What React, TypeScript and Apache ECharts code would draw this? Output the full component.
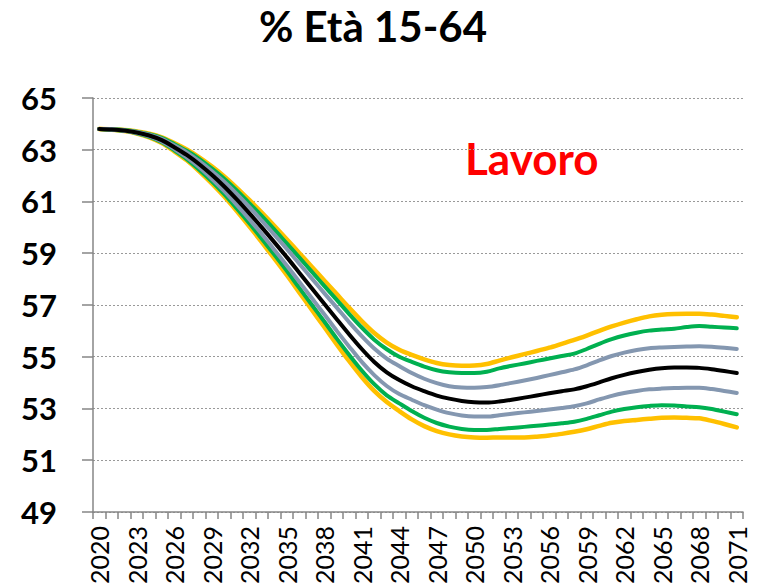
import React, { useEffect, useRef } from "react";
import * as echarts from "echarts";

const years = [
  "2020","2021","2022","2023","2024","2025","2026","2027","2028","2029",
  "2030","2031","2032","2033","2034","2035","2036","2037","2038","2039",
  "2040","2041","2042","2043","2044","2045","2046","2047","2048","2049",
  "2050","2051","2052","2053","2054","2055","2056","2057","2058","2059",
  "2060","2061","2062","2063","2064","2065","2066","2067","2068","2069",
  "2070","2071",
];

const median = [
  63.80, 63.78, 63.74, 63.67, 63.55, 63.37, 63.10, 62.80, 62.44, 62.03,
  61.58, 61.08, 60.55, 60.00, 59.43, 58.85, 58.25, 57.65, 57.05, 56.45,
  55.86, 55.30, 54.80, 54.40, 54.10, 53.86, 53.67, 53.50, 53.38, 53.29,
  53.24, 53.23, 53.27, 53.34, 53.42, 53.50, 53.59, 53.67, 53.74, 53.86,
  54.01, 54.17, 54.30, 54.41, 54.50, 54.56, 54.58, 54.58, 54.57, 54.52,
  54.45, 54.37,
];

const yellowHigh = [
  63.80, 63.79, 63.76, 63.71, 63.62, 63.48, 63.26, 63.01, 62.71, 62.36,
  61.97, 61.53, 61.06, 60.57, 60.06, 59.54, 59.01, 58.48, 57.95, 57.42,
  56.89, 56.38, 55.92, 55.55, 55.27, 55.07, 54.90, 54.76, 54.68, 54.65,
  54.66, 54.72, 54.85, 54.98, 55.10, 55.22, 55.35, 55.50, 55.65, 55.82,
  56.00, 56.17, 56.32, 56.45, 56.56, 56.62, 56.65, 56.66, 56.66, 56.63,
  56.58, 56.53,
];

const yellowLow = [
  63.80, 63.77, 63.72, 63.63, 63.48, 63.26, 62.94, 62.59, 62.17, 61.70,
  61.19, 60.63, 60.04, 59.43, 58.80, 58.16, 57.49, 56.82, 56.15, 55.48,
  54.83, 54.22, 53.68, 53.25, 52.90, 52.58, 52.32, 52.13, 52.00, 51.92,
  51.88, 51.87, 51.88, 51.88, 51.88, 51.91, 51.96, 52.02, 52.10, 52.20,
  52.33, 52.45, 52.52, 52.56, 52.60, 52.64, 52.65, 52.64, 52.62, 52.52,
  52.40, 52.27,
];

const greenHigh = [
  63.80, 63.79, 63.76, 63.70, 63.60, 63.46, 63.22, 62.96, 62.65, 62.28,
  61.88, 61.43, 60.94, 60.44, 59.92, 59.38, 58.84, 58.29, 57.74, 57.20,
  56.65, 56.13, 55.66, 55.29, 55.00, 54.80, 54.62, 54.48, 54.40, 54.37,
  54.37, 54.42, 54.55, 54.65, 54.74, 54.84, 54.93, 55.03, 55.12, 55.30,
  55.50, 55.68, 55.82, 55.93, 56.01, 56.05, 56.08, 56.15, 56.19, 56.16,
  56.13, 56.10,
];

const greenLow = [
  63.80, 63.77, 63.73, 63.64, 63.50, 63.29, 62.98, 62.64, 62.23, 61.78,
  61.28, 60.73, 60.16, 59.56, 58.95, 58.32, 57.66, 57.01, 56.36, 55.70,
  55.07, 54.47, 53.94, 53.51, 53.20, 52.90, 52.64, 52.44, 52.30, 52.21,
  52.17, 52.17, 52.21, 52.25, 52.29, 52.33, 52.38, 52.43, 52.49, 52.60,
  52.74, 52.88, 52.98, 53.05, 53.10, 53.13, 53.12, 53.08, 53.05, 52.98,
  52.88, 52.78,
];

const greyHigh = [
  63.80, 63.79, 63.75, 63.69, 63.58, 63.42, 63.17, 62.90, 62.56, 62.18,
  61.76, 61.29, 60.79, 60.26, 59.72, 59.17, 58.60, 58.03, 57.46, 56.90,
  56.33, 55.80, 55.32, 54.93, 54.64, 54.37, 54.15, 53.98, 53.86, 53.81,
  53.80, 53.83, 53.90, 53.99, 54.08, 54.18, 54.29, 54.40, 54.51, 54.67,
  54.86, 55.03, 55.16, 55.26, 55.33, 55.36, 55.38, 55.40, 55.41, 55.39,
  55.35, 55.30,
];

const greyLow = [
  63.80, 63.78, 63.73, 63.65, 63.52, 63.32, 63.03, 62.70, 62.32, 61.88,
  61.40, 60.87, 60.32, 59.74, 59.14, 58.53, 57.90, 57.27, 56.64, 56.00,
  55.39, 54.80, 54.29, 53.87, 53.56, 53.34, 53.13, 52.96, 52.82, 52.73,
  52.69, 52.69, 52.74, 52.80, 52.85, 52.90, 52.96, 53.02, 53.09, 53.20,
  53.35, 53.49, 53.60, 53.68, 53.74, 53.77, 53.79, 53.80, 53.80, 53.75,
  53.68, 53.60,
];

const titleText = "% Età 15-64";
const noteText = "Lavoro";

const YELLOW = "#FFC000";
const GREEN = "#00B050";
const GREY = "#8497B0";
const BLACK = "#000000";

function line(name: string, data: number[], color: string, width: number) {
  return {
    name,
    type: "line",
    data,
    smooth: 0.3,
    showSymbol: false,
    symbol: "none",
    lineStyle: { color, width, cap: "round", join: "round" },
    emphasis: { disabled: true },
  };
}

export default function App() {
  const ref = useRef<HTMLDivElement>(null);
  useEffect(() => {
    if (!ref.current) return;
    const chart = echarts.init(ref.current, undefined, { renderer: "svg" });
    chart.setOption({
      animation: false,
      backgroundColor: "#ffffff",
      title: {
        text: titleText,
        left: 368,
        top: 0,
        textAlign: "center",
        textStyle: { fontFamily: "Lato", fontWeight: "bold", fontSize: 42, color: "#000" },
      },
      graphic: [
        {
          type: "text",
          left: 465,
          top: 136,
          style: { text: noteText, fill: "#FF0000", font: "bold 44px Lato" },
        },
      ],
      grid: { left: 93, right: 14, top: 98, bottom: 73, containLabel: false },
      xAxis: {
        type: "category",
        data: years,
        boundaryGap: true,
        axisLine: { lineStyle: { color: "#868686", width: 1.5 } },
        axisTick: { show: true, interval: 0, length: 7, lineStyle: { color: "#868686", width: 1.5 } },
        axisLabel: {
          interval: 2,
          rotate: 90,
          margin: 14,
          fontFamily: "Lato",
          fontSize: 25,
          color: "#000",
        },
        splitLine: { show: false },
      },
      yAxis: {
        type: "value",
        min: 49,
        max: 65,
        interval: 2,
        axisLine: { show: true, lineStyle: { color: "#868686", width: 1.5 } },
        axisTick: { show: true, length: 11, lineStyle: { color: "#868686", width: 1.5 } },
        axisLabel: {
          margin: 36,
          fontFamily: "Lato",
          fontWeight: "bold",
          fontSize: 31,
          color: "#000",
        },
        splitLine: { show: true, lineStyle: { color: "#999", type: [2, 2], width: 1 } },
      },
      series: [
        line("Giallo alto", yellowHigh, YELLOW, 4.5),
        line("Giallo basso", yellowLow, YELLOW, 4.5),
        line("Verde alto", greenHigh, GREEN, 4),
        line("Verde basso", greenLow, GREEN, 4),
        line("Grigio alto", greyHigh, GREY, 4),
        line("Grigio basso", greyLow, GREY, 4),
        line("Mediana", median, BLACK, 4),
      ],
    });
    return () => chart.dispose();
  }, []);
  return (
    <div
      ref={ref}
      style={{ position: "fixed", left: 0, top: 0, width: 757, height: 587, background: "#fff" }}
    />
  );
}
